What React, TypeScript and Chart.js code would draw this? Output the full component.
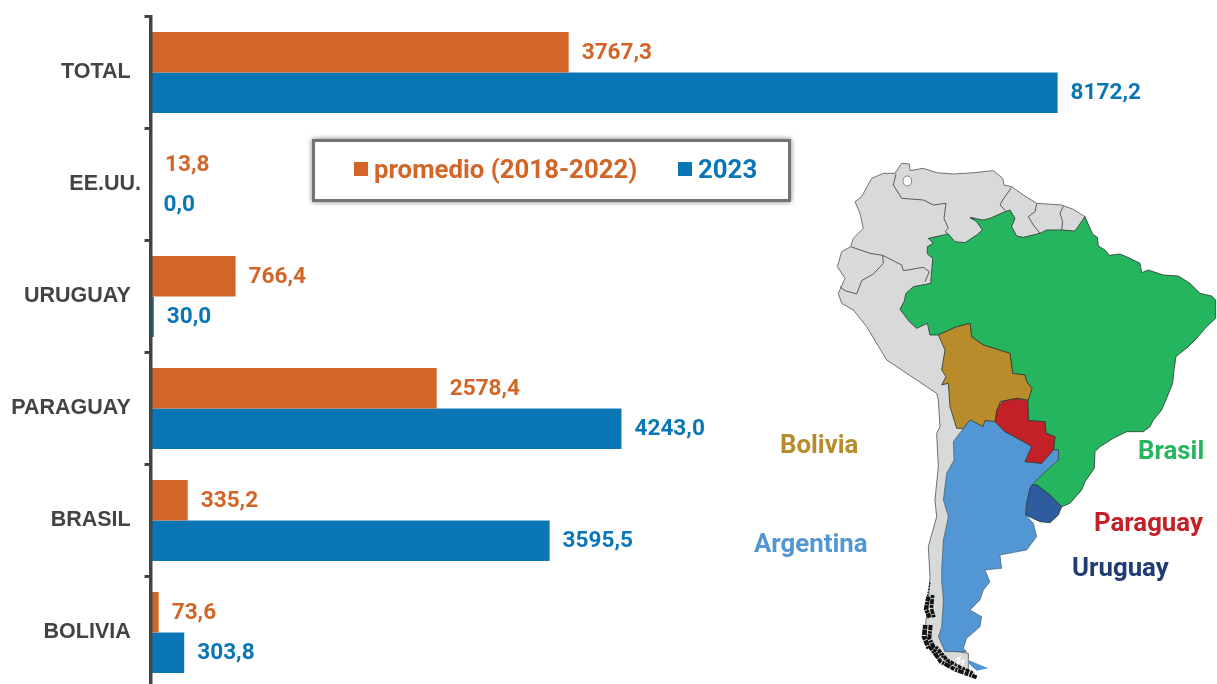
import React, { useEffect, useRef, useState } from "react";
import { Chart, registerables } from "chart.js";

Chart.register(...registerables);

const categories = ["TOTAL", "EE.UU.", "URUGUAY", "PARAGUAY", "BRASIL", "BOLIVIA"];
const promedio = [3767.3, 13.8, 766.4, 2578.4, 335.2, 73.6];
const anio2023 = [8172.2, 0.0, 30.0, 4243.0, 3595.5, 303.8];
const seriesNames = ["promedio (2018-2022)", "2023"];
const seriesColors = ["#D26628", "#0A76B6"];
const valueFont = "bold 22.6px Roboto";
const axisColor = "#404446";
const axisLength = 672;

const mapLabels = [
  { text: "Bolivia", left: 780, top: 444, color: "#B88C2A" },
  { text: "Brasil", left: 1138, top: 450, color: "#27B560" },
  { text: "Paraguay", left: 1094, top: 522, color: "#C32027" },
  { text: "Argentina", left: 754, top: 543, color: "#5297D3" },
  { text: "Uruguay", left: 1072, top: 567, color: "#1F3D73" },
];

// Map outlines (decorative illustration), in a 3x frame whose origin is page (820,150)
const landOutline = "795,200 760,178 725,165 650,160 610,135 575,110 552,105 548,85 520,62 465,68 400,72 350,68 310,55 270,62 268,42 245,40 225,70 190,70 155,85 125,140 105,155 120,190 130,235 100,265 92,290 65,305 52,350 75,385 55,430 65,460 100,480 140,530 200,630 260,670 350,730 355,750 360,830 350,850 355,950 345,1050 350,1100 325,1190 330,1280 325,1350 315,1440 330,1500 380,1550 445,1560 445,1510 380,1500 420,1000";
const brazil = "795,200 810,235 818,252 832,262 835,288 855,300 868,316 900,312 930,325 960,340 965,368 985,360 1030,375 1075,378 1110,400 1140,430 1175,438 1187,450 1187,505 1160,530 1130,565 1105,590 1080,610 1068,620 1062,660 1058,700 1050,720 1025,780 1000,810 990,830 970,845 920,845 880,865 840,890 825,905 823,955 795,995 785,1020 750,1060 725,1070 690,1035 650,1005 635,1005 645,995 675,965 715,930 715,900 700,900 705,860 678,850 675,815 625,812 623,750 636,715 620,695 615,675 578,670 570,610 490,585 455,560 450,520 410,530 355,555 330,555 322,520 290,535 268,515 240,478 252,455 258,430 280,410 332,400 338,325 322,312 322,290 340,280 325,265 385,252 405,275 435,278 470,255 487,240 470,215 450,203 490,210 510,205 555,185 570,180 585,205 575,230 590,258 610,262 660,250 680,240 725,240 765,243";
const bolivia = "355,555 410,530 450,520 455,560 490,585 570,610 578,670 615,675 620,695 636,715 625,750 590,745 540,755 525,815 495,812 490,830 450,810 430,835 410,835 390,770 385,700 365,705 378,680 365,660 375,600";
const paraguay = "525,815 530,780 545,755 590,745 623,752 625,812 675,815 678,850 705,860 700,900 665,940 615,935 635,890 620,880 555,845";
const argentina = "430,835 450,810 490,830 495,812 525,815 555,845 620,880 635,890 615,935 665,940 700,900 715,900 715,930 675,965 645,995 630,1015 620,1060 617,1095 640,1120 650,1160 620,1200 540,1215 545,1255 495,1260 510,1295 490,1320 480,1350 450,1380 485,1400 480,1430 440,1465 430,1495 440,1505 375,1505 355,1460 365,1430 370,1350 365,1295 365,1255 370,1170 385,1100 370,1050 380,970 402,930 400,875";
const fuego = "445,1530 505,1555 470,1562 445,1540";
const uruguay = "635,1005 650,1005 690,1035 725,1070 715,1095 690,1118 660,1115 617,1095 620,1060 630,1015";
const innerBorders = [
  "228,72 220,105 245,145 310,150 340,165 378,160 372,205 385,235 375,245 385,252",
  "465,205 450,203",
  "575,112 548,150 540,165 557,182",
  "650,162 645,185 625,200 640,225 660,250",
  "730,168 720,190 728,215 725,240",
  "92,290 150,310 188,316 245,345 250,362 310,352 328,365 315,395",
  "188,316 190,340 160,372 125,392 110,432 75,422 60,410",
];
const speckles = [
  { points: "325,1340 318,1378 330,1405", width: 13, dash: "14 2 8 2" },
  { points: "338,1335 334,1375 342,1402", width: 11, dash: "9 3 16 2" },
  { points: "316,1425 312,1460 326,1495", width: 14, dash: "12 2 16 3" },
  { points: "332,1425 328,1465 345,1500", width: 12, dash: "16 3 7 2" },
  { points: "330,1490 362,1535 408,1560 470,1582", width: 12, dash: "12 3 7 2 18 3" },
  { points: "348,1490 382,1530 422,1552 462,1570", width: 9, dash: "8 3 12 3" },
  { points: "330,1298 322,1340", width: 4, dash: "5 4" },
  { points: "345,1500 395,1545", width: 8, dash: "6 3" },
];
const whiteSpecks = "405,1530 420,1522 412,1540 432,1530 425,1548";

const svgStyle: React.CSSProperties = { position: "absolute", left: 0, top: 0, pointerEvents: "none", filter: "blur(0.4px)" };

function MapArt() {
  const border = { stroke: "#2f3a35", strokeWidth: 2.5, strokeLinejoin: "round" as const };
  return (
    <svg width={1217} height={684} style={svgStyle}>
      <g transform="translate(820,150) scale(0.33333)">
        <polygon points={landOutline} fill="#D8DADA" stroke="#6d7072" strokeWidth={3} strokeLinejoin="round" />
        <ellipse cx={262} cy={93} rx={13} ry={15} fill="#fff" stroke="#555" strokeWidth={2} />
        {innerBorders.map((p, i) => (
          <polyline key={i} points={p} fill="none" stroke="#55595b" strokeWidth={3} />
        ))}
        {speckles.map((s, i) => (
          <polyline key={i} points={s.points} fill="none" stroke="#111" strokeWidth={s.width} strokeDasharray={s.dash} />
        ))}
        <polyline points={whiteSpecks} fill="none" stroke="#fff" strokeWidth={4} />
        <polygon points={brazil} fill="#26B55F" {...border} />
        <polygon points={bolivia} fill="#B88C2A" {...border} />
        <polygon points={argentina} fill="#5297D3" {...border} strokeWidth={1.5} />
        <polygon points={fuego} fill="#5297D3" />
        <polygon points={paraguay} fill="#C32027" {...border} />
        <polygon points={uruguay} fill="#2D5C9F" {...border} />
      </g>
    </svg>
  );
}

const valueLabels = {
  id: "valueLabels",
  afterDatasetsDraw(chart: Chart) {
    const ctx = chart.ctx;
    ctx.save();
    ctx.font = valueFont;
    ctx.textBaseline = "middle";
    ctx.textAlign = "left";
    chart.data.datasets.forEach((ds: any, i: number) => {
      ctx.fillStyle = ds.backgroundColor;
      chart.getDatasetMeta(i).data.forEach((bar: any, j: number) => {
        const text = (ds.data[j] as number).toFixed(1).replace(".", ",");
        ctx.fillText(text, bar.x + 13, bar.y + 1);
      });
    });
    ctx.restore();
  },
};

// The axis runs off the bottom of the page in the reference, so its length is set after layout.
const axisFit = {
  id: "axisFit",
  afterLayout(chart: any) {
    const y = chart.scales.y;
    y.bottom = y.top + axisLength;
    y.height = axisLength;
    y.configure();
    chart.chartArea.bottom = y.bottom;
    chart.chartArea.height = axisLength;
  },
};

export default function App() {
  const ref = useRef<HTMLCanvasElement>(null);
  const [legend, setLegend] = useState<{ text: string; color: string }[]>([]);

  useEffect(() => {
    const chart = new Chart(ref.current!, {
      type: "bar",
      data: {
        labels: categories,
        datasets: [
          { label: seriesNames[0], data: promedio, backgroundColor: seriesColors[0], borderWidth: 0 },
          { label: seriesNames[1], data: anio2023, backgroundColor: seriesColors[1], borderWidth: 0 },
        ],
      },
      plugins: [axisFit, valueLabels],
      options: {
        indexAxis: "y",
        responsive: false,
        maintainAspectRatio: false,
        animation: false,
        layout: { autoPadding: false, padding: { top: 15.7, bottom: 12.3, right: 67.5, left: 0 } },
        datasets: { bar: { categoryPercentage: 0.723, barPercentage: 1 } },
        plugins: { legend: { display: false }, tooltip: { enabled: false }, title: { display: false } },
        scales: {
          x: { display: false, min: 0, max: 9000, grid: { display: false } },
          y: {
            afterFit: (scale: any) => { scale.width = 150.5; },
            border: { color: axisColor, width: 3.5, z: 1 },
            grid: {
              offset: true,
              drawOnChartArea: false,
              drawTicks: true,
              tickLength: 6,
              tickWidth: 3,
              tickColor: axisColor,
            },
            ticks: {
              color: "#404446",
              font: { family: "Liberation Sans", weight: "bold", size: 21.5 },
              padding: 3.5,
              autoSkip: false,
              callback(value: any) {
                const name = categories[value as number];
                return name === "EE.UU." ? name : name + " \u2009";
              },
            },
          },
        },
      } as any,
    });
    setLegend(chart.data.datasets.map((d: any) => ({ text: d.label, color: d.backgroundColor })));
    return () => chart.destroy();
  }, []);

  return (
    <div style={{ position: "fixed", left: 0, top: 0, width: 1217, height: 684, overflow: "hidden", background: "#fff", fontFamily: "Roboto" }}>
      <div style={{ position: "absolute", left: 0, top: 0, width: 1217, height: 700 }}>
        <canvas ref={ref} width={1217} height={700} style={{ display: "block" }} />
      </div>
      <MapArt />
      <div style={{ position: "absolute", left: 312, top: 139, width: 479, height: 63, boxSizing: "border-box", border: "3px solid #707476", boxShadow: "0 0 5px rgba(0,0,0,0.5)", background: "#fff" }} />
      {legend.map((item, i) => (
        <div key={item.text} style={{ position: "absolute", left: i === 0 ? 354 : 678, top: 154, height: 30, display: "flex", alignItems: "center", fontWeight: 700, fontSize: 25.8, color: item.color, whiteSpace: "nowrap" }}>
          <span style={{ width: 14, height: 14, background: item.color, marginRight: 6, display: "inline-block" }} />
          {item.text}
        </div>
      ))}
      {mapLabels.map((l) => (
        <div key={l.text} style={{ position: "absolute", left: l.left, top: l.top - 15, height: 30, lineHeight: "30px", fontWeight: 700, fontSize: 25.8, color: l.color, whiteSpace: "nowrap" }}>
          {l.text}
        </div>
      ))}
    </div>
  );
}
